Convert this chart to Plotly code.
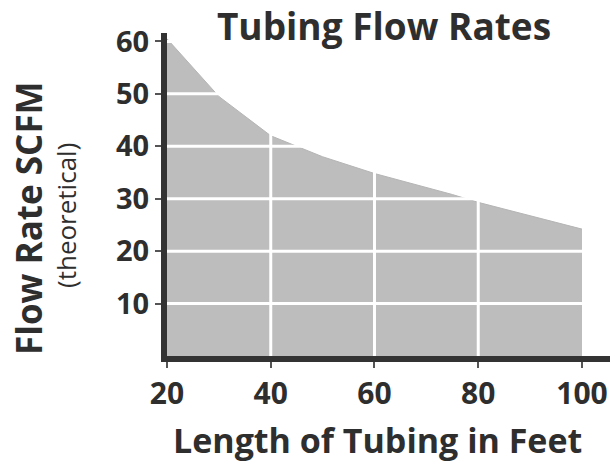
import plotly.graph_objects as go

# Data
length_ft = [20, 25, 30, 40, 50, 60, 70, 75, 80, 90, 100]
flow_scfm = [60.5, 55, 49.5, 42, 38, 34.8, 32.2, 30.8, 29.3, 26.7, 24.2]

x_ticks = [20, 40, 60, 80, 100]
y_ticks = [10, 20, 30, 40, 50, 60]

title_text = "Tubing Flow Rates"
x_title = "Length of Tubing in Feet"
y_title = "Flow Rate SCFM"
y_subtitle = "(theoretical)"

TXT = "#2e2e2e"
FONT = "Open Sans"

fig = go.Figure()
fig.add_trace(go.Scatter(
    x=length_ft, y=flow_scfm, mode="lines", fill="tozeroy",
    fillcolor="#bdbdbd", line=dict(color="#b5b5b5", width=1),
    hoverinfo="skip", showlegend=False,
))

# white gridlines drawn above the fill
shapes = []
for yv in y_ticks:
    shapes.append(dict(type="line", xref="x", yref="y", x0=length_ft[0], x1=length_ft[-1],
                       y0=yv, y1=yv, line=dict(color="white", width=3), layer="above"))
for xv in x_ticks[1:-1]:
    shapes.append(dict(type="line", xref="x", yref="y", x0=xv, x1=xv,
                       y0=0, y1=max(flow_scfm), line=dict(color="white", width=3), layer="above"))

fig.update_layout(
    width=610, height=468,
    margin=dict(l=167, r=0, t=33, b=112),
    plot_bgcolor="white", paper_bgcolor="white",
    shapes=shapes,
    title=dict(text=title_text, xref="container", yref="container", x=384 / 610, y=1 - 27 / 468,
               xanchor="center", yanchor="middle",
               font=dict(family=FONT, size=37, color=TXT, weight="bold")),
    xaxis=dict(range=[20, 105.4], tickvals=x_ticks, ticktext=[str(v) for v in x_ticks],
               showgrid=False, zeroline=False, showline=True, linewidth=6, linecolor="#333333",
               ticks="outside", ticklen=6, tickwidth=2, tickcolor="#555555",
               tickfont=dict(family=FONT, size=30, color=TXT, weight="bold"),
               layer="above traces"),
    yaxis=dict(range=[0, 61.6], tickvals=y_ticks, ticktext=[str(v) for v in y_ticks],
               showgrid=False, zeroline=False, showline=True, linewidth=6, linecolor="#333333",
               ticks="outside", ticklen=6, tickwidth=2, tickcolor="#555555",
               tickfont=dict(family=FONT, size=29, color=TXT, weight="bold"),
               layer="above traces"),
    annotations=[
        dict(text=x_title, xref="paper", yref="paper", x=(377 - 167) / 443, y=0,
             yshift=-84, xanchor="center", yanchor="middle", showarrow=False,
             font=dict(family=FONT, size=34, color=TXT, weight="bold")),
        dict(text=y_title, xref="paper", yref="paper", x=0, xshift=29 - 167, y=(356 - 218) / 323,
             textangle=-90, xanchor="center", yanchor="middle", showarrow=False,
             font=dict(family=FONT, size=35, color=TXT, weight="bold")),
        dict(text=y_subtitle, xref="paper", yref="paper", x=0, xshift=66 - 167, y=(356 - 216) / 323,
             textangle=-90, xanchor="center", yanchor="middle", showarrow=False,
             font=dict(family=FONT, size=26, color=TXT)),
    ],
)

fig.write_html("out.html", config={"displayModeBar": False},
               post_script="document.body.style.margin='0';")
